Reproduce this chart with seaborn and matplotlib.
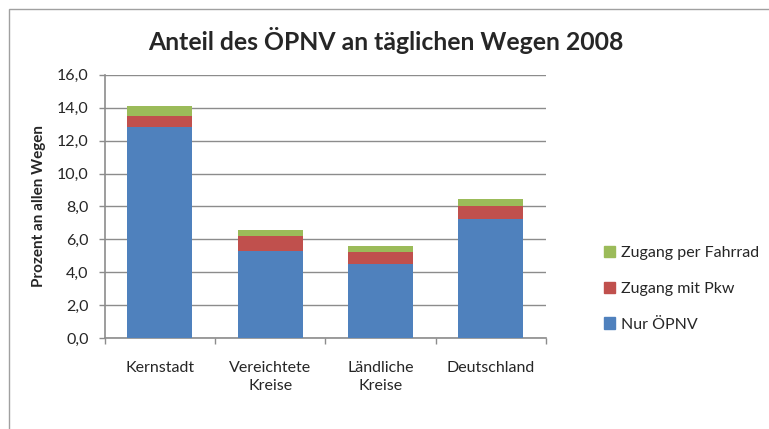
import matplotlib
matplotlib.use("Agg")
import matplotlib.pyplot as plt
import seaborn as sns
import numpy as np
import pandas as pd
from matplotlib.patches import Rectangle, Patch
from matplotlib.ticker import FuncFormatter, FixedLocator

# Data (percent of all trips)
categories = ["Kernstadt", "Vereichtete\nKreise", "Ländliche\nKreise", "Deutschland"]
nur_oepnv = [12.8, 5.3, 4.5, 7.25]
zugang_pkw = [0.7, 0.9, 0.75, 0.75]
zugang_fahrrad = [0.6, 0.35, 0.35, 0.45]

c_blue = "#4F81BD"
c_red = "#C0504D"
c_green = "#9BBB59"
grid_col = "#8C8C8C"

sns.set_theme(style="white")
plt.rcParams["font.family"] = ["Lato", "DejaVu Sans"]

df = pd.DataFrame({
    "kategorie": categories,
    "blau": nur_oepnv,
    "rot": np.array(nur_oepnv) + np.array(zugang_pkw),
    "gruen": np.array(nur_oepnv) + np.array(zugang_pkw) + np.array(zugang_fahrrad),
})

fig = plt.figure(figsize=(7.69, 4.29), dpi=100)
ax = fig.add_axes([0.136, 0.2114, 0.574, 0.6145])

# stacked bars: draw totals first, then lower parts on top
for col, color in [("gruen", c_green), ("rot", c_red), ("blau", c_blue)]:
    sns.barplot(data=df, x="kategorie", y=col, color=color, width=0.59,
                saturation=1, ax=ax, linewidth=0, zorder=3)

ax.set_ylim(0, 16)
ax.set_xlim(-0.5, 3.5)
ax.yaxis.set_major_locator(FixedLocator(np.arange(0, 16.1, 2)))
ax.yaxis.set_major_formatter(FuncFormatter(lambda v, p: f"{v:.1f}".replace(".", ",")))
ax.grid(axis="y", color=grid_col, linewidth=1.0, zorder=0)
ax.set_axisbelow(True)

for s in ["top", "right"]:
    ax.spines[s].set_visible(False)
for s in ["left", "bottom"]:
    ax.spines[s].set_color(grid_col)
    ax.spines[s].set_linewidth(1.2)

ax.tick_params(axis="y", which="major", left=True, length=4.5, color=grid_col,
               width=1, labelsize=11.5, pad=7)
ax.tick_params(axis="x", which="major", bottom=False, labelsize=11.5, pad=10)
ax.set_xticks(np.arange(-0.5, 3.6, 1), minor=True)
ax.tick_params(axis="x", which="minor", bottom=True, length=4.5, color=grid_col, width=1)
for lbl in ax.get_xticklabels():
    lbl.set_linespacing(1.45)

ax.set_xlabel("")
ax.set_ylabel("Prozent an allen Wegen", fontsize=11, fontweight="bold", labelpad=8)

fig.text(0.502, 0.905, "Anteil des ÖPNV an täglichen Wegen 2008", ha="center",
         va="center", fontsize=17.8, fontweight="bold")

handles = [Patch(color=c_green, label="Zugang per Fahrrad"),
           Patch(color=c_red, label="Zugang mit Pkw"),
           Patch(color=c_blue, label="Nur ÖPNV")]
fig.legend(handles=handles, loc="center left", bbox_to_anchor=(0.767, 0.327),
           frameon=False, fontsize=11.5, handlelength=0.7, handleheight=0.7,
           handletextpad=0.35, labelspacing=1.35)

# chart area border (cropped on the right and bottom like the source)
fig.add_artist(Rectangle((9 / 769, -0.1), 1.2, 1.1 - 9 / 429, transform=fig.transFigure,
                         fill=False, edgecolor="#A0A0A0", linewidth=1.0))

fig.savefig("out.png", dpi=100)
